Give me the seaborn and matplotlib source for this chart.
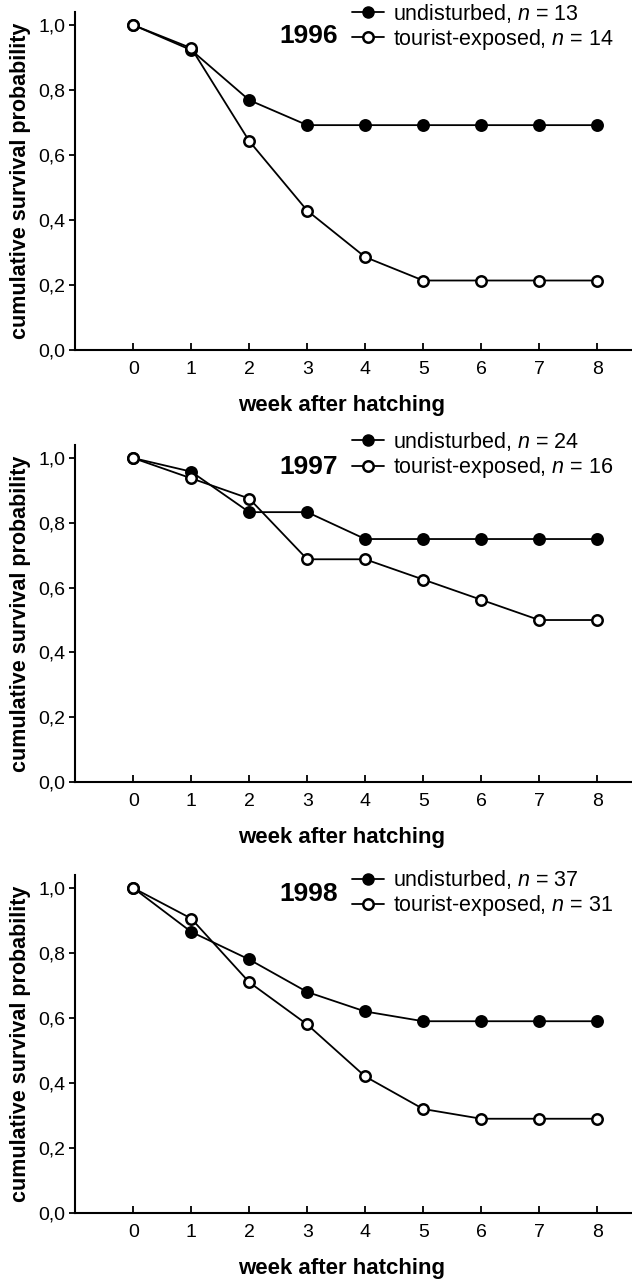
import matplotlib
matplotlib.use("Agg")
import matplotlib.pyplot as plt
import seaborn as sns
from matplotlib.lines import Line2D
from matplotlib.ticker import FuncFormatter

# survival data
weeks = [0, 1, 2, 3, 4, 5, 6, 7, 8]
years = ["1996", "1997", "1998"]

undisturbed_1996 = [1.0, 0.923, 0.769, 0.692, 0.692, 0.692, 0.692, 0.692, 0.692]
tourist_1996 = [1.0, 0.929, 0.643, 0.429, 0.286, 0.214, 0.214, 0.214, 0.214]
undisturbed_1997 = [1.0, 0.958, 0.833, 0.833, 0.75, 0.75, 0.75, 0.75, 0.75]
tourist_1997 = [1.0, 0.9375, 0.875, 0.6875, 0.6875, 0.625, 0.5625, 0.5, 0.5]
undisturbed_1998 = [1.0, 0.865, 0.78, 0.68, 0.62, 0.59, 0.59, 0.59, 0.59]
tourist_1998 = [1.0, 0.906, 0.71, 0.58, 0.42, 0.32, 0.29, 0.29, 0.29]

n_undisturbed = [13, 24, 37]
n_tourist = [14, 16, 31]

sns.set_theme(style="ticks", rc={"text.color": "black", "axes.labelcolor": "black",
                                 "xtick.color": "black", "ytick.color": "black"})
fonts = ["Liberation Sans Narrow", "Liberation Sans", "DejaVu Sans"]
plt.rcParams["font.family"] = fonts
plt.rcParams["mathtext.fontset"] = "custom"
plt.rcParams["mathtext.it"] = "Liberation Sans:italic"
plt.rcParams["mathtext.rm"] = "Liberation Sans"

fig = plt.figure(figsize=(6.32, 12.79), dpi=100)

# axes boxes [left, bottom, width, height] in figure fraction
boxes = [
    [0.119, 0.7263, 0.881, 0.2643],
    [0.119, 0.3886, 0.881, 0.2634],
    [0.119, 0.0516, 0.881, 0.2643],
]
legend_y = [1.03, 1.045, 1.02]
year_y = [0.93, 0.935, 0.945]

series = [
    (undisturbed_1996, tourist_1996),
    (undisturbed_1997, tourist_1997),
    (undisturbed_1998, tourist_1998),
]

for i, (und, tour) in enumerate(series):
    ax = fig.add_axes(boxes[i])
    sns.lineplot(x=weeks, y=und, ax=ax, color="black", lw=1.3, marker="o",
                 markersize=8, markerfacecolor="black", markeredgecolor="black",
                 markeredgewidth=1.3, zorder=3)
    sns.lineplot(x=weeks, y=tour, ax=ax, color="black", lw=1.3, marker="o",
                 markersize=7.5, markerfacecolor="white", markeredgecolor="black",
                 markeredgewidth=1.8, zorder=4)

    ax.set_xlim(-1, 8.6)
    ax.set_ylim(0, 1.04)
    ax.set_xticks(weeks)
    ax.set_yticks([0, 0.2, 0.4, 0.6, 0.8, 1.0])
    ax.yaxis.set_major_formatter(FuncFormatter(lambda v, p: f"{v:.1f}".replace(".", ",")))
    sns.despine(ax=ax)
    for s in ["left", "bottom"]:
        ax.spines[s].set_linewidth(1.5)
        ax.spines[s].set_color("black")
    ax.tick_params(axis="x", direction="in", length=5, width=1.3, labelsize=14, pad=8)
    ax.tick_params(axis="y", direction="out", length=4, width=1.3, labelsize=14, pad=3)

    ax.set_xlabel("week after hatching", fontsize=16, fontweight="bold",
                  family=["Liberation Sans", "DejaVu Sans"], labelpad=12)
    ax.xaxis.label.set_x(0.478)
    ax.set_ylabel("cumulative survival probability", fontsize=15.5, fontweight="bold",
                  family=["Liberation Sans", "DejaVu Sans"], labelpad=5)

    handles = [
        Line2D([], [], color="black", lw=1.3, marker="o", markersize=8,
               markerfacecolor="black", markeredgecolor="black"),
        Line2D([], [], color="black", lw=1.3, marker="o", markersize=7.5,
               markerfacecolor="white", markeredgecolor="black", markeredgewidth=1.8),
    ]
    labels = [f"undisturbed, $n$ = {n_undisturbed[i]}",
              f"tourist-exposed, $n$ = {n_tourist[i]}"]
    ax.legend(handles, labels, loc="upper left", bbox_to_anchor=(0.497, legend_y[i]),
              frameon=False, fontsize=15.5, handlelength=1.5, handletextpad=0.4,
              labelspacing=0.1, borderpad=0, borderaxespad=0)
    ax.text(0.42, year_y[i], years[i], transform=ax.transAxes, ha="center", va="center",
            fontsize=19, fontweight="bold", color="black")

fig.savefig("out.png", dpi=100)
